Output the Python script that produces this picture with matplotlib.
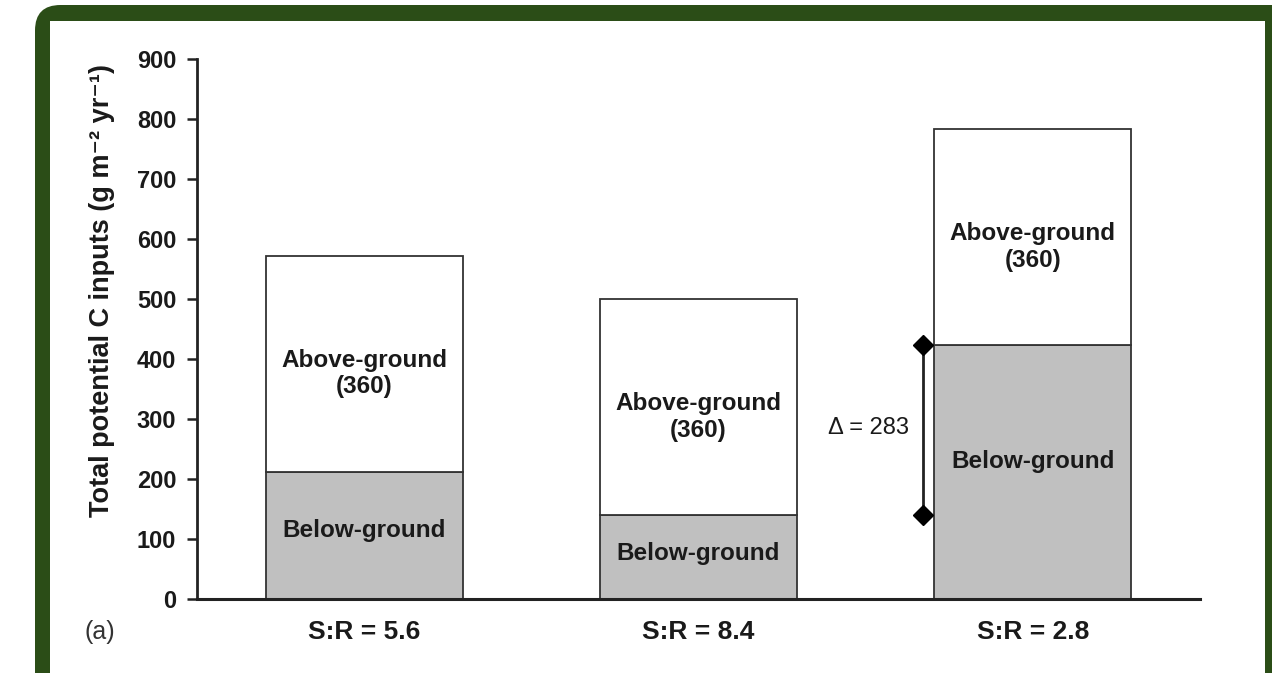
import matplotlib
matplotlib.use("Agg")
import matplotlib.pyplot as plt
from matplotlib.patches import FancyBboxPatch

plt.rcParams['font.family'] = ['Liberation Sans', 'DejaVu Sans']

categories = ["S:R = 5.6", "S:R = 8.4", "S:R = 2.8"]
below_ground = [212, 140, 423]
above_ground = [360, 360, 360]
yticks = [0, 100, 200, 300, 400, 500, 600, 700, 800, 900]
delta_value = 283

W, H = 1272, 673
fig = plt.figure(figsize=(W / 100, H / 100), dpi=100)
fig.patch.set_facecolor("white")

# green frame (outer filled rounded rect + inner white rect)
outer = FancyBboxPatch((35 / W, -0.1), (1300 - 35) / W, 1.1 - 5 / H,
                       boxstyle="round,pad=0,rounding_size=0.02",
                       transform=fig.transFigure, facecolor="#2b4d17",
                       edgecolor="none", zorder=-10, mutation_aspect=W / H)
inner = FancyBboxPatch((50 / W, -0.1), (1265 - 50) / W, 1.1 - 21 / H,
                       boxstyle="square,pad=0",
                       transform=fig.transFigure, facecolor="white",
                       edgecolor="none", zorder=-9)
fig.patches.extend([outer, inner])

ax = fig.add_axes([197 / W, 1 - 599 / H, (1200 - 197) / W, (599 - 59) / H])
ax.set_facecolor("none")

x = list(range(len(categories)))
width = 0.59
ax.bar(x, below_ground, width=width, color="#c0c0c0", edgecolor="#333333", linewidth=1.3, zorder=2)
ax.bar(x, above_ground, width=width, bottom=below_ground, color="white", edgecolor="#333333", linewidth=1.3, zorder=2)

for i in x:
    b = below_ground[i]
    a = above_ground[i]
    ax.text(i, b * 0.54, "Below-ground", ha="center", va="center", fontsize=17.5, fontweight="bold", color="#1a1a1a")
    ax.text(i, b + a * 0.455, "Above-ground\n(360)", ha="center", va="center", fontsize=17.5,
            fontweight="bold", color="#1a1a1a", linespacing=1.2)

# delta annotation
lo, hi = below_ground[1], below_ground[2]
dx = 1.67
ax.plot([dx, dx], [lo, hi], color="#222222", linewidth=2, zorder=3)
ax.plot([dx, dx], [lo, hi], linestyle="none", marker="D", markersize=10, color="black", zorder=4)
ax.text(dx - 0.04, (lo + hi) / 2 + 4, "\u0394 = " + str(delta_value), ha="right", va="center",
        fontsize=17, color="#1a1a1a")

ax.set_xlim(-0.5, 2.5)
ax.set_ylim(0, 900)
ax.set_yticks(yticks)
ax.set_yticklabels([str(t) for t in yticks], fontsize=17, fontweight="bold", color="#1a1a1a")
ax.set_xticks(x)
ax.set_xticklabels(categories, fontsize=19, fontweight="bold", color="#1a1a1a")
ax.tick_params(axis="x", length=0, pad=15)
ax.tick_params(axis="y", length=7, width=1.8, color="#222222", pad=8)

for s in ["top", "right"]:
    ax.spines[s].set_visible(False)
ax.spines["left"].set_linewidth(2)
ax.spines["bottom"].set_linewidth(2.2)
ax.spines["left"].set_color("#222222")
ax.spines["bottom"].set_color("#222222")

ax.set_ylabel("Total potential C inputs (g m\u207b\u00b2 yr\u207b\u00b9)", fontsize=19.5, fontweight="bold",
              color="#1a1a1a")
ax.yaxis.set_label_coords(-0.082, 0.572)

fig.text(85 / W, 1 - 632 / H, "(a)", fontsize=18, ha="left", va="center", color="#333333")

fig.savefig("out.png", dpi=100, facecolor="white")
